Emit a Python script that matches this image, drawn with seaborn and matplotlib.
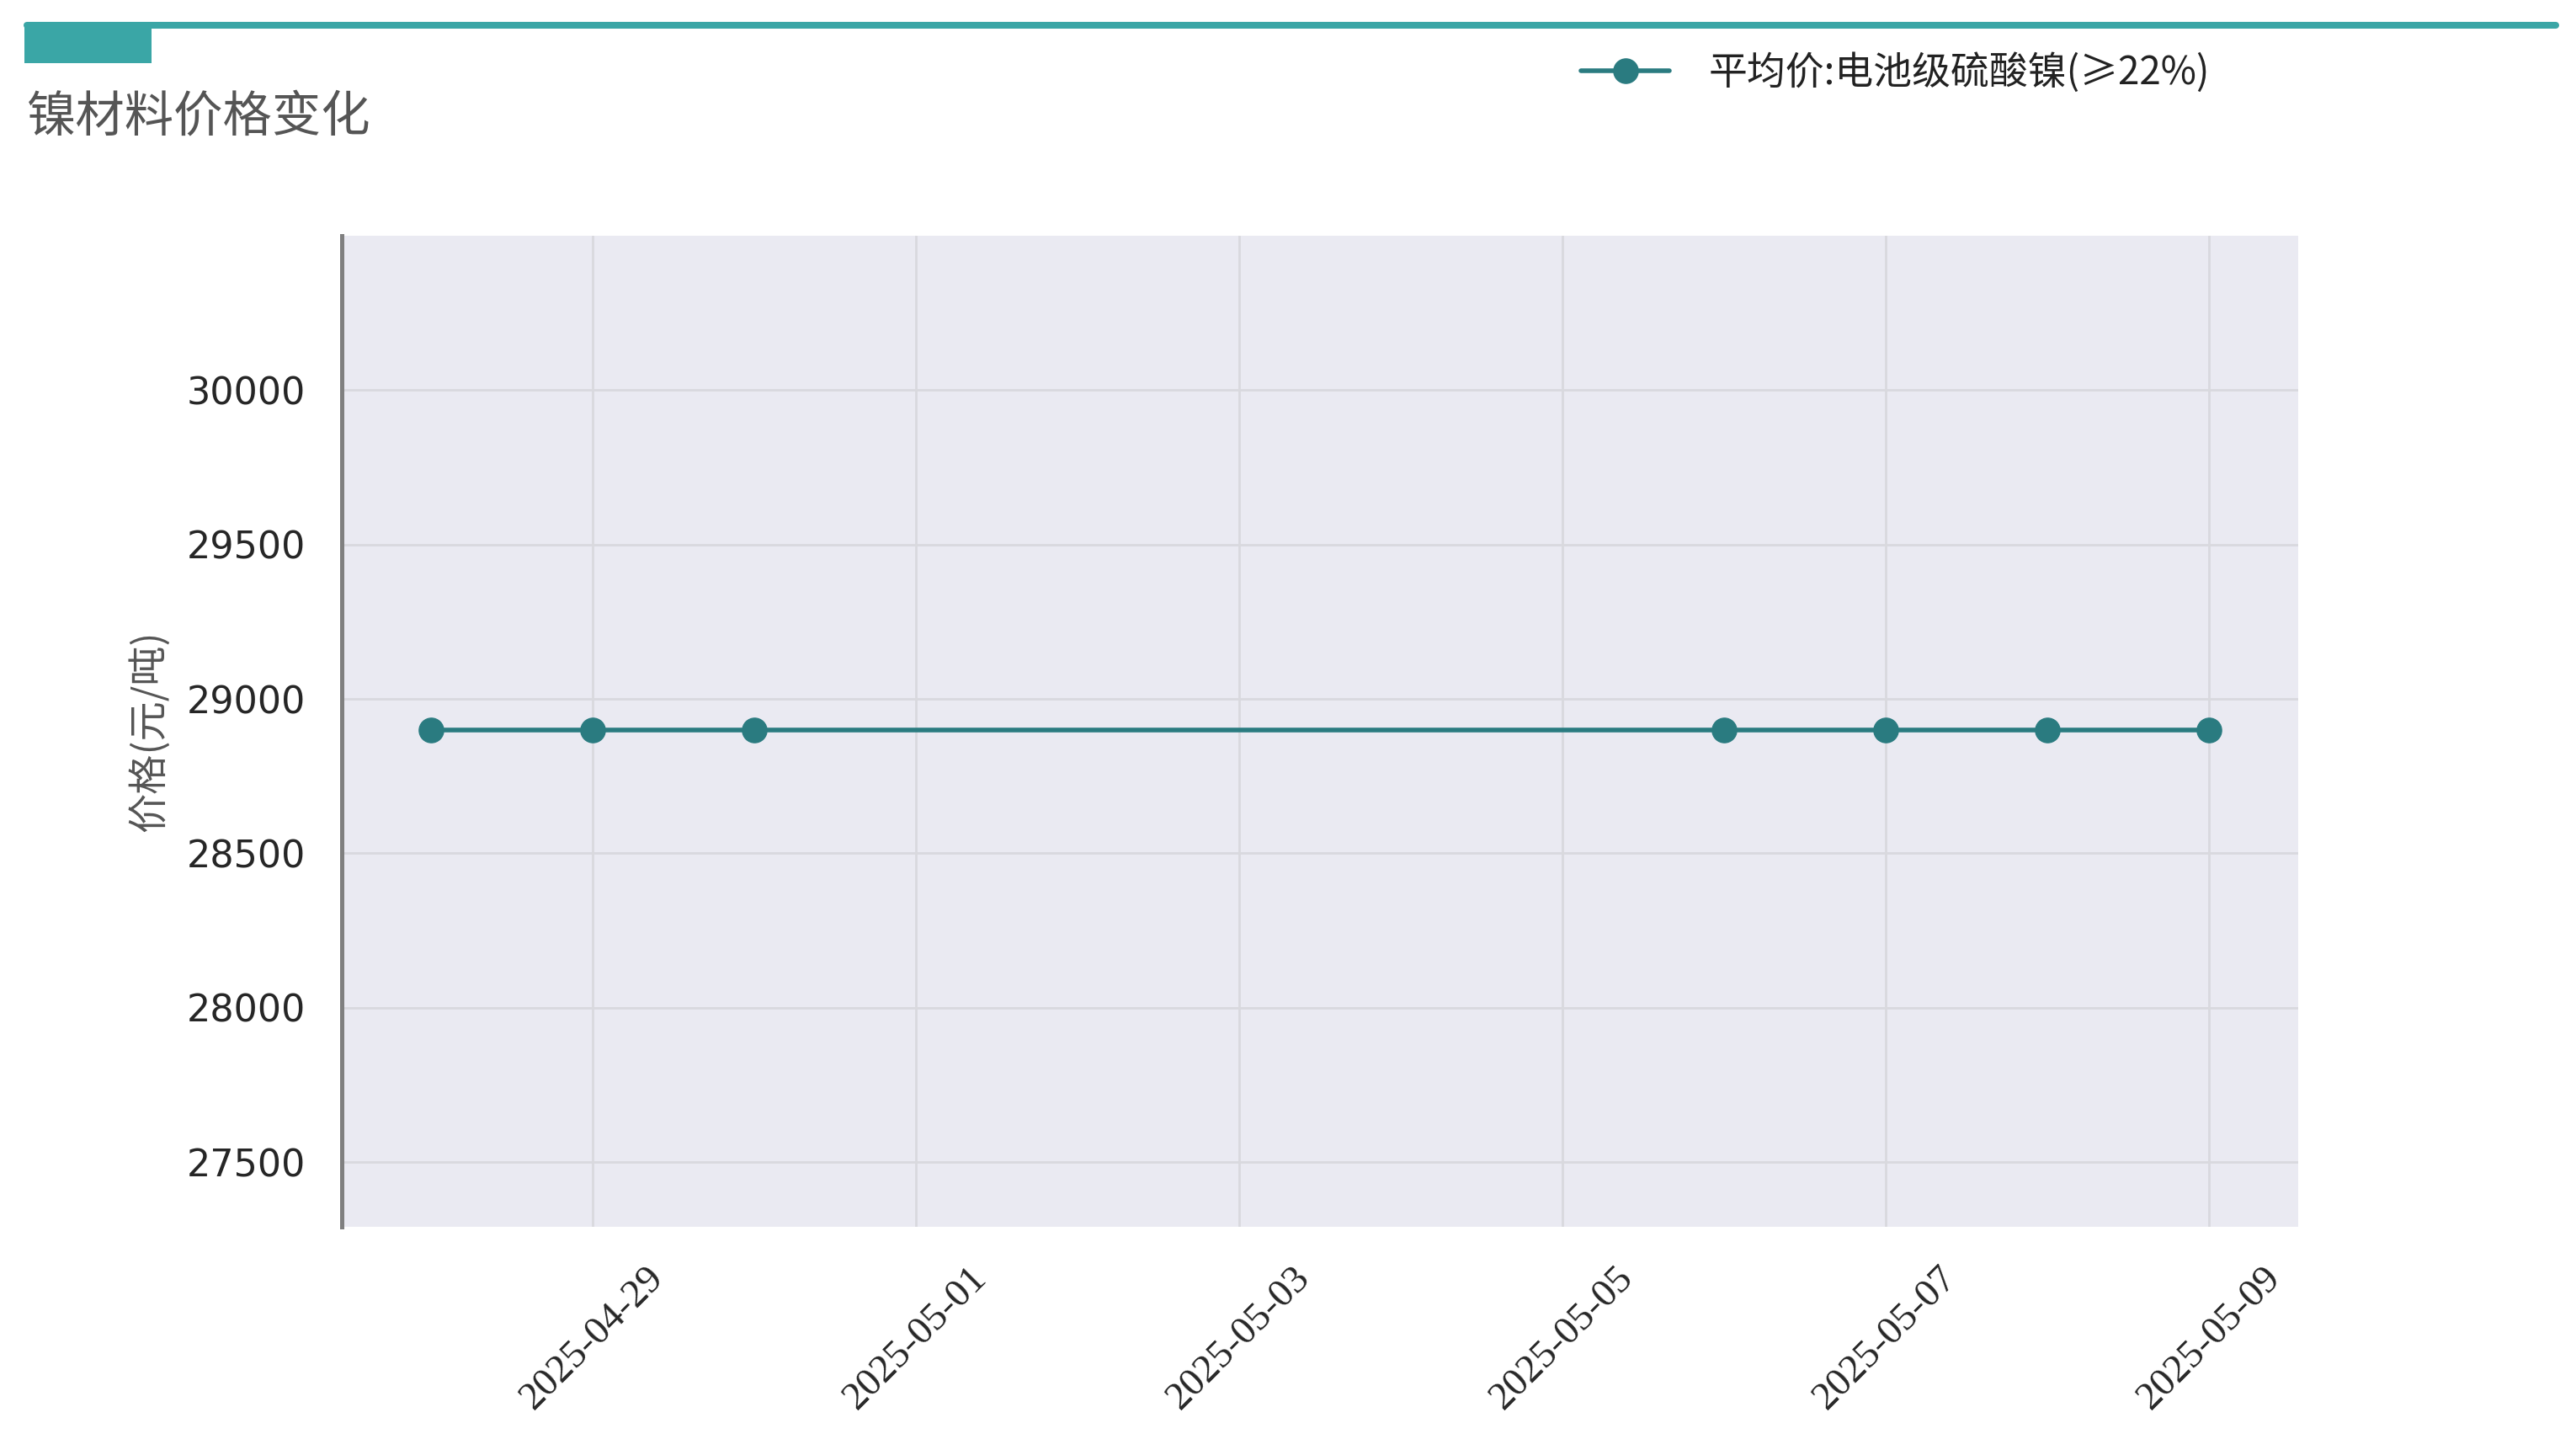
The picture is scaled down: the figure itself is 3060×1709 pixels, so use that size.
import matplotlib
matplotlib.use('Agg')
import matplotlib.pyplot as plt
import matplotlib.dates as mdates
import matplotlib.patches as mpatches
from matplotlib.lines import Line2D
import seaborn as sns
import pandas as pd

# ---- data ----
dates = ['2025-04-28', '2025-04-29', '2025-04-30', '2025-05-06',
         '2025-05-07', '2025-05-08', '2025-05-09']
prices = [28900, 28900, 28900, 28900, 28900, 28900, 28900]
series_name = '平均价:电池级硫酸镍(≥22%)'
title_text = '镍材料价格变化'
ylabel_text = '价格(元/吨)'
xtick_dates = ['2025-04-29', '2025-05-01', '2025-05-03', '2025-05-05',
               '2025-05-07', '2025-05-09']
ytick_values = [27500, 28000, 28500, 29000, 29500, 30000]

# ---- style ----
sns.set_theme(style='darkgrid')
plt.rcParams['font.family'] = ['DejaVu Sans', 'Noto Sans CJK SC']
CJK = ['Noto Sans CJK SC', 'DejaVu Sans']

W, H, DPI = 3060, 1709, 200
fig = plt.figure(figsize=(W / DPI, H / DPI), dpi=DPI)
fig.patch.set_facecolor('white')

L, R, T, B = 406, 2730, 280, 1457
ax = fig.add_axes([L / W, 1 - B / H, (R - L) / W, (B - T) / H])
ax.set_facecolor('#EAEAF2')

df = pd.DataFrame({'date': pd.to_datetime(dates), 'price': prices})
line_color = '#2A7B80'
sns.lineplot(data=df, x='date', y='price', ax=ax, color=line_color,
             marker='o', markersize=10.5, markeredgewidth=0.5,
             markeredgecolor=line_color, linewidth=2.0, legend=False)

ax.set_ylim(27290, 30500)
ax.set_yticks(ytick_values)
ax.set_xticks(pd.to_datetime(xtick_dates))
ax.xaxis.set_major_formatter(mdates.DateFormatter('%Y-%m-%d'))

ax.grid(True, color='#D9D9DE', linewidth=1.0)
for s in ['top', 'right', 'bottom']:
    ax.spines[s].set_visible(False)
ax.spines['left'].set_visible(True)
ax.spines['left'].set_color('#808080')
ax.spines['left'].set_linewidth(1.8)

ax.tick_params(axis='y', length=0, pad=15.5, labelsize=16, labelcolor='#262626')
ax.tick_params(axis='x', length=0, pad=14, labelsize=17, labelcolor='#262626')
for lab in ax.get_xticklabels():
    lab.set_rotation(45)
    lab.set_ha('center')
    lab.set_fontfamily(['Liberation Serif', 'DejaVu Serif'])

ax.set_xlabel('')
ax.set_ylabel(ylabel_text, fontsize=17, color='#555555', family=CJK)
ax.yaxis.set_label_coords((202 - L) / (R - L), 0.5)

# ---- title and decoration ----
fig.add_artist(Line2D([32 / W, 3036 / W], [1 - 30 / H, 1 - 30 / H],
                      transform=fig.transFigure, color='#3AA6A6',
                      linewidth=2.9, solid_capstyle='round'))
fig.add_artist(mpatches.Rectangle((29 / W, 1 - 75 / H), 151 / W, 48 / H,
                                  transform=fig.transFigure,
                                  color='#3AA6A6', linewidth=0))
fig.text(32 / W, 1 - 140 / H, title_text, fontsize=21, color='#555555',
         family=CJK, va='center', ha='left')

# ---- legend ----
handle = Line2D([], [], color=line_color, marker='o', markersize=10.5,
                markeredgewidth=0.5, markeredgecolor=line_color, linewidth=2.0)
leg = fig.legend([handle], [series_name], loc='center left',
                 bbox_to_anchor=(1878 / W, 1 - 87 / H), frameon=False,
                 fontsize=16.5, handlelength=2.3, handletextpad=1.0,
                 borderpad=0, borderaxespad=0)
for t in leg.get_texts():
    t.set_fontfamily(CJK)
    t.set_color('#222222')

fig.savefig('out.png', dpi=DPI, facecolor='white')
